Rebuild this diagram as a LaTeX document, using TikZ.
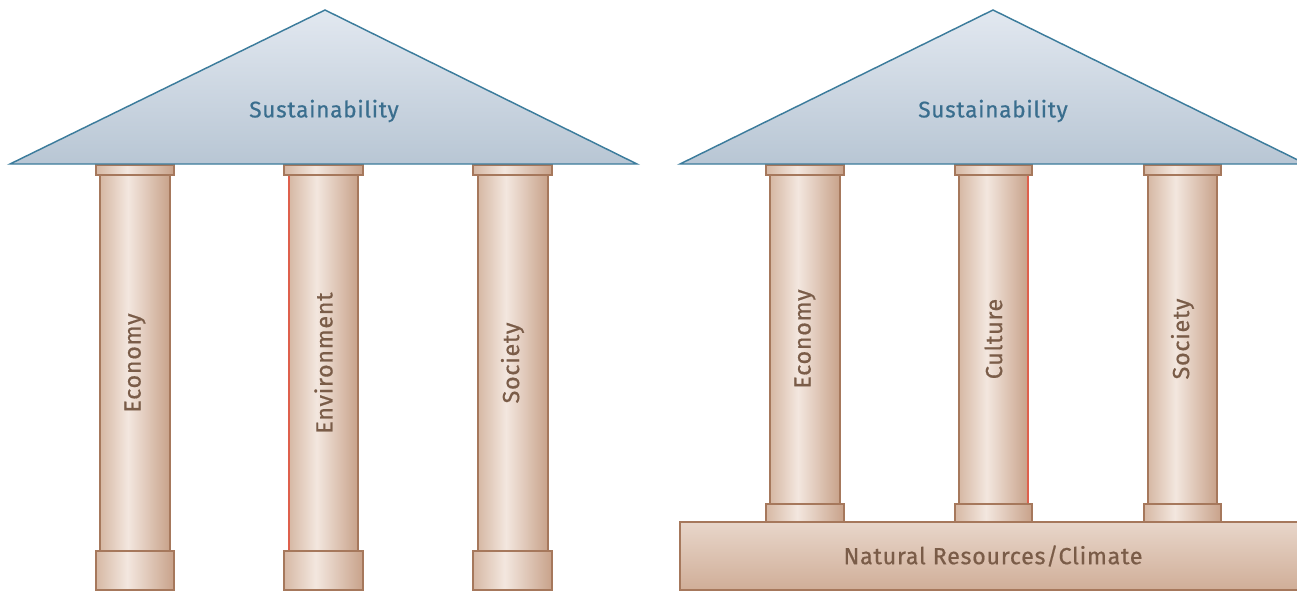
\documentclass[tikz,border=0pt]{standalone}
\usepackage{fontspec}
\usetikzlibrary{positioning}
\newfontfamily\templefont[LetterSpace=3, FakeBold=0.6]{Fira Sans}
\definecolor{tpRoofTop}{RGB}{226,232,240}
\definecolor{tpRoofBot}{RGB}{184,198,212}
\definecolor{tpRoofLine}{RGB}{60,124,156}
\definecolor{tpRoofText}{RGB}{58,110,142}
\definecolor{tpStoneL}{RGB}{214,184,164}
\definecolor{tpStoneM}{RGB}{243,231,223}
\definecolor{tpStoneR}{RGB}{200,162,138}
\definecolor{tpSlabTop}{RGB}{232,214,202}
\definecolor{tpSlabBot}{RGB}{208,174,152}
\definecolor{tpStoneLine}{RGB}{166,120,92}
\definecolor{tpStoneText}{RGB}{122,92,72}
\definecolor{tpRed}{RGB}{222,96,76}
\pgfdeclarehorizontalshading{stone}{100bp}{color(0bp)=(tpStoneL); color(25bp)=(tpStoneL);
  color(45bp)=(tpStoneM); color(75bp)=(tpStoneR); color(100bp)=(tpStoneR)}
\tikzset{
    base/.style={font=\templefont, align=center},
    roof/.style={draw=tpRoofLine, line width=1.1pt, line join=miter,
                 top color=tpRoofTop, bottom color=tpRoofBot},
    stone/.style={draw=tpStoneLine, line width=0.9pt, shading=stone},
    slab/.style={draw=tpStoneLine, line width=0.9pt,
                 top color=tpSlabTop, bottom color=tpSlabBot},
    rimred/.style={draw=tpRed, line width=0.9pt},
    rooftext/.style={base, text=tpRoofText, font=\templefont\fontsize{17}{20}\selectfont},
    pillartext/.style={base, text=tpStoneText, rotate=90, font=\templefont\fontsize{17.5}{20}\selectfont}
}
\begin{document}
\begin{tikzpicture}[x=0.75pt, y=-0.75pt]
  \useasboundingbox (0,0) rectangle (1297,592);

  % Three pillars
  \draw[stone] (100,175) rectangle (170,551);
  \draw[stone] (96,165) rectangle (174,175);
  \draw[stone] (96,551) rectangle (174,590);
  \draw[stone] (289,175) rectangle (358,551);
  \draw[rimred] (289,175) -- (289,551);
  \draw[stone] (284,165) rectangle (363,175);
  \draw[stone] (284,551) rectangle (363,590);
  \draw[stone] (478,175) rectangle (548,551);
  \draw[stone] (473,165) rectangle (552,175);
  \draw[stone] (473,551) rectangle (552,590);

  % Roof
  \draw[roof] (10,164) -- (325,10) -- (637,164) -- cycle;
  \node[rooftext] (sustL) at (324,111) {Sustainability};

  % Pillar names
  \node[pillartext] (econL) at (135,363) {Economy};
  \node[pillartext] (envL) at (323.5,363) {Environment};
  \node[pillartext] (socL) at (512.5,363) {Society};

  % Foundation
  \draw[slab] (680,522) rectangle (1310,590);
  \node[pillartext, rotate=-90] (natR) at (993,556) {Natural Resources/Climate};

  % Pillars on the foundation
  \draw[stone] (770,175) rectangle (840,504);
  \draw[stone] (766,165) rectangle (844,175);
  \draw[stone] (766,504) rectangle (844,522);
  \draw[stone] (959,175) rectangle (1028,504);
  \draw[rimred] (1028,175) -- (1028,504);
  \draw[stone] (955,165) rectangle (1032,175);
  \draw[stone] (955,504) rectangle (1032,522);
  \draw[stone] (1148,175) rectangle (1217,504);
  \draw[stone] (1144,165) rectangle (1221,175);
  \draw[stone] (1144,504) rectangle (1221,522);

  % Roof
  \draw[roof] (680,164) -- (993,10) -- (1306,164) -- cycle;
  \node[rooftext] (sustR) at (993,111) {Sustainability};

  % Pillar names
  \node[pillartext] (econR) at (805,339) {Economy};
  \node[pillartext] (cultR) at (993.5,339) {Culture};
  \node[pillartext] (socR) at (1182.5,339) {Society};
\end{tikzpicture}
\end{document}
